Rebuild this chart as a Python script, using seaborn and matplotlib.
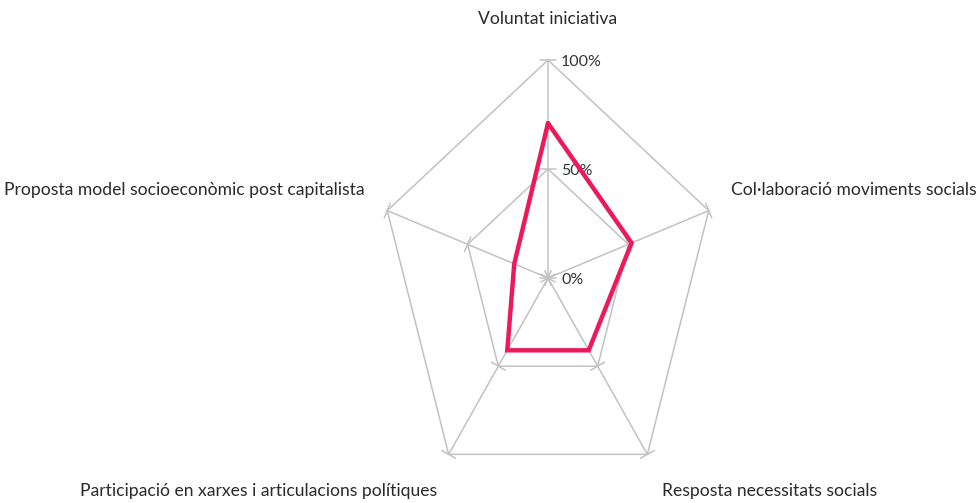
import numpy as np
import pandas as pd
import matplotlib
matplotlib.use("Agg")
import matplotlib.pyplot as plt
import seaborn as sns

# Radar chart data
categories = [
    "Voluntat iniciativa",
    "Col·laboració moviments socials",
    "Resposta necessitats socials",
    "Participació en xarxes i articulacions polítiques",
    "Proposta model socioeconòmic post capitalista",
]
values = [0.71, 0.52, 0.41, 0.41, 0.21]
levels = [0.0, 0.5, 1.0]
level_labels = ["0%", "50%", "100%"]

sns.set_theme(style="white")
plt.rcParams["font.family"] = ["Lato", "DejaVu Sans"]

W, H = 976, 503
fig = plt.figure(figsize=(W / 100, H / 100), dpi=100)
ax = fig.add_axes([0, 0, 1, 1])
# axes in pixel-like units, chart centre at the origin
cx, cy = 548, 278
ax.set_xlim(-cx, W - cx)
ax.set_ylim(-(H - cy), cy)
ax.axis("off")

RX, RY = 169, 218  # horizontal / vertical radius of the 100% ring
n = len(categories)
theta = np.arange(n) * 2 * np.pi / n


def to_xy(v, t):
    return v * RX * np.sin(t), v * RY * np.cos(t)


grid_col = "#c2c2c2"

# spokes
for t in theta:
    x1, y1 = to_xy(1.0, t)
    ax.plot([0, x1], [0, y1], color=grid_col, lw=1.1, zorder=1)

# rings
for lv in levels[1:]:
    xs, ys = to_xy(lv, np.append(theta, theta[0]))
    ax.plot(xs, ys, color=grid_col, lw=1.1, zorder=1)

# small tick marks across each spoke at every level
half = 8
for t in theta:
    dx, dy = to_xy(1.0, t)
    norm = np.hypot(dx, dy)
    px, py = -dy / norm, dx / norm
    for lv in levels:
        x0, y0 = to_xy(lv, t)
        ax.plot([x0 - half * px, x0 + half * px], [y0 - half * py, y0 + half * py],
                color=grid_col, lw=1.1, zorder=1)

# level labels along the top spoke
for lv, lab in zip(levels, level_labels):
    x0, y0 = to_xy(lv, 0.0)
    ax.text(x0 + 13, y0 - 2, lab, ha="left", va="center", fontsize=11.5,
            color="#333333")

# data polygon
xs, ys = to_xy(np.array(values + values[:1]), np.append(theta, theta[0]))
df = pd.DataFrame({"x": xs, "y": ys, "order": np.arange(len(xs))})
sns.lineplot(data=df, x="x", y="y", sort=False, estimator=None, ax=ax,
             color="#ec1a5a", lw=3.2, zorder=3)
ax.lines[-1].set_solid_joinstyle("miter")
ax.set_xlim(-cx, W - cx)
ax.set_ylim(-(H - cy), cy)
ax.axis("off")

# category labels
label_pos = [
    (0, 259, "center"),
    (183, 88, "left"),
    (114, -213, "left"),
    (-111, -213, "right"),
    (-183, 88, "right"),
]
for cat, (lx, ly, ha) in zip(categories, label_pos):
    ax.text(lx, ly, cat, ha=ha, va="center", fontsize=12.6, color="#2a2a2a")

fig.savefig("out.png", dpi=100)
